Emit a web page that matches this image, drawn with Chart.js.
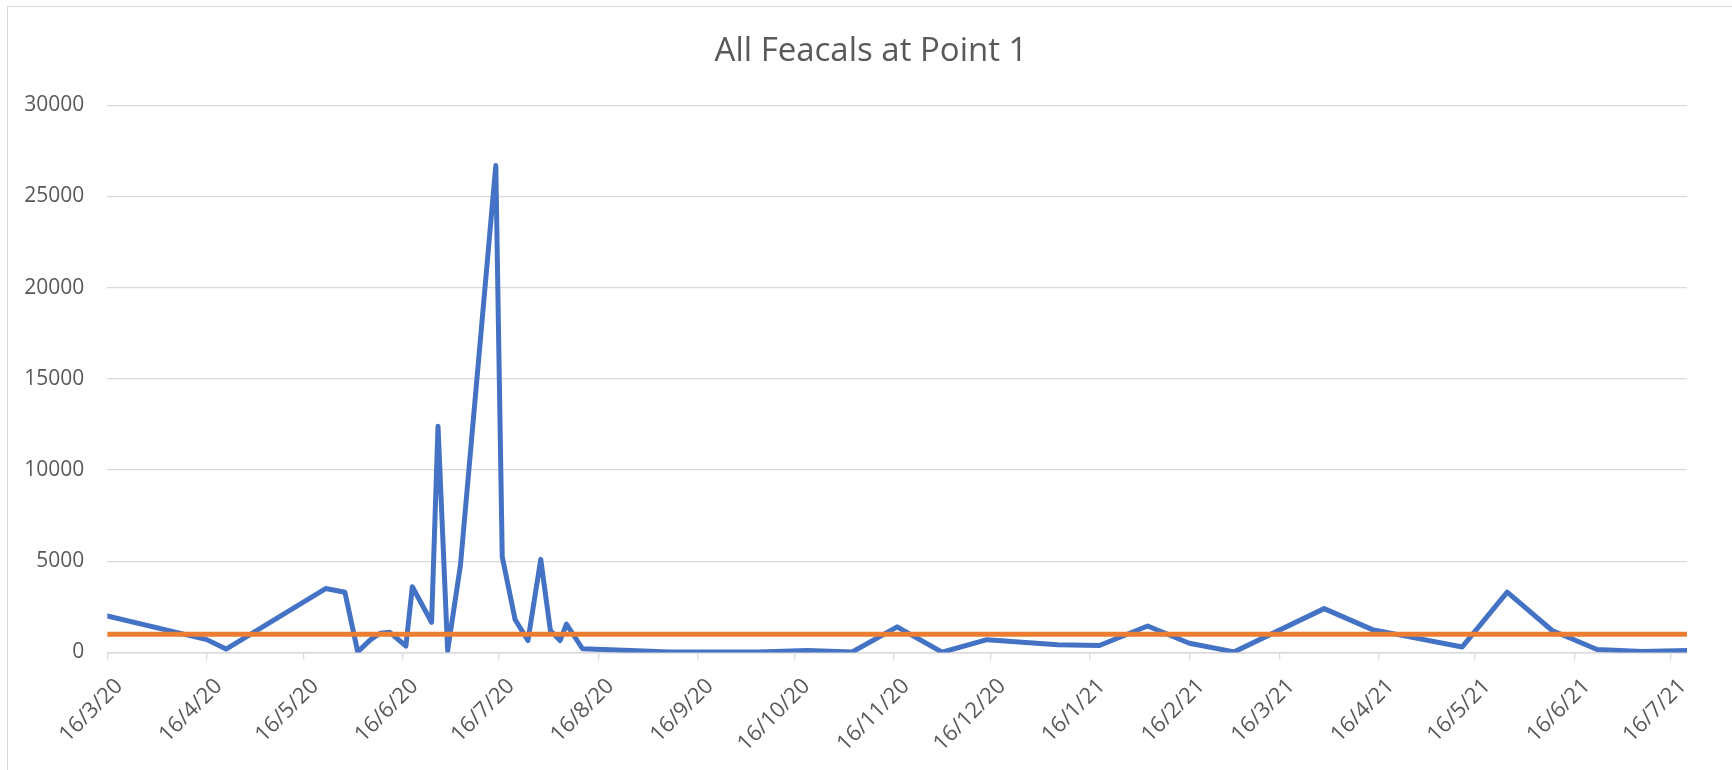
<!DOCTYPE html>
<html>
<head>
<meta charset="utf-8">
<script src="https://cdn.jsdelivr.net/npm/chart.js@4.4.1/dist/chart.umd.min.js"></script>
<style>
  html, body { margin: 0; padding: 0; background: #fff; overflow: hidden; }
  #wrap { position: relative; width: 1732px; height: 770px; }
  #frame { position: absolute; left: 7px; top: 6px; width: 1800px; height: 800px;
           border-left: 1px solid #d9d9d9; border-top: 1px solid #d9d9d9; }
  canvas { position: absolute; left: 0; top: 0; }
</style>
</head>
<body>
<div id="wrap">
  <div id="frame"></div>
  <canvas id="c" width="1732" height="770"></canvas>
</div>
<script>
// ---- data ----
const chartTitle = 'All Feacals at Point 1';
const sampleDates = ['16/3/20','16/4/20','22/4/20','23/5/20','29/5/20','2/6/20','6/6/20','9/6/20','12/6/20','17/6/20',
  '19/6/20','25/6/20','27/6/20','30/6/20','4/7/20','15/7/20','17/7/20','21/7/20','25/7/20','29/7/20',
  '1/8/20','4/8/20','6/8/20','11/8/20','26/8/20','7/9/20','5/10/20','20/10/20','3/11/20','17/11/20',
  '1/12/20','15/12/20','6/1/21','19/1/21','3/2/21','16/2/21','2/3/21','30/3/21','14/4/21','12/5/21',
  '26/5/21','9/6/21','23/6/21','7/7/21','21/7/21'];
const faecalValues = [2000, 700, 180, 3500, 3300, 30, 700, 1050, 1100, 350,
  3600, 1650, 12400, 100, 4800, 26700, 5250, 1800, 650, 5100,
  1200, 650, 1550, 200, 100, 20, 20, 100, 20, 1400,
  10, 700, 420, 380, 1450, 500, 30, 2400, 1250, 300,
  3300, 1200, 160, 50, 100];
const limitDates = ['16/3/20', '21/7/21'];
const limitValues = [1000, 1000];
const xTickLabels = ['16/3/20','16/4/20','16/5/20','16/6/20','16/7/20','16/8/20','16/9/20','16/10/20','16/11/20',
  '16/12/20','16/1/21','16/2/21','16/3/21','16/4/21','16/5/21','16/6/21','16/7/21'];
const yTickValues = [0, 5000, 10000, 15000, 20000, 25000, 30000];

// ---- helpers ----
function dayOffset(s) {
  const [d, m, y] = s.split('/').map(Number);
  return (Date.UTC(2000 + y, m - 1, d) - Date.UTC(2020, 2, 16)) / 86400000;
}
const toPoints = (dates, vals) => dates.map((d, i) => ({ x: dayOffset(d), y: vals[i] }));

Chart.defaults.font.family = "'Open Sans', sans-serif";
Chart.defaults.color = '#595959';

new Chart(document.getElementById('c'), {
  type: 'line',
  data: {
    datasets: [
      {
        label: 'Limit',
        data: toPoints(limitDates, limitValues),
        borderColor: '#ED7D31',
        borderWidth: 5,
        pointRadius: 0,
        borderCapStyle: 'round',
        borderJoinStyle: 'round',
        order: 0
      },
      {
        label: 'All Feacals',
        data: toPoints(sampleDates, faecalValues),
        borderColor: '#4472C4',
        borderWidth: 5,
        pointRadius: 0,
        tension: 0,
        borderCapStyle: 'round',
        borderJoinStyle: 'round',
        order: 1
      }
    ]
  },
  options: {
    responsive: false,
    animation: false,
    devicePixelRatio: 1,
    layout: { padding: { left: 10, right: 0, top: 0, bottom: 0 } },
    plugins: {
      legend: { display: false },
      tooltip: { enabled: false },
      title: {
        display: true,
        text: chartTitle,
        color: '#595959',
        font: { size: 33, weight: 'normal', lineHeight: 1.2 },
        padding: { top: 32, bottom: 33.6 }
      }
    },
    scales: {
      x: {
        type: 'linear',
        min: 0,
        max: dayOffset('21/7/21'),
        afterBuildTicks: (scale) => { scale.ticks = xTickLabels.map(s => ({ value: dayOffset(s) })); },
        afterFit: (scale) => { scale.height = 117.6; scale.paddingLeft = 0; scale.paddingRight = 45; },
        grid: { display: true, drawOnChartArea: false, drawTicks: true, tickLength: 7, color: '#d9d9d9', lineWidth: 1.3 },
        border: { display: true, color: '#d9d9d9', width: 1.5 },
        ticks: {
          autoSkip: false,
          minRotation: 45,
          maxRotation: 45,
          padding: 14,
          labelOffset: 12,
          color: '#595959',
          font: { size: 22 },
          callback: (v, i) => xTickLabels[i]
        }
      },
      y: {
        min: 0,
        max: 30000,
        afterBuildTicks: (scale) => { scale.ticks = yTickValues.map(v => ({ value: v })); },
        afterFit: (scale) => { scale.width = 97.3; scale.paddingTop = 0; scale.paddingBottom = 0; },
        grid: { color: '#d9d9d9', lineWidth: 1.3, drawTicks: false },
        border: { display: false },
        ticks: {
          padding: 23,
          color: '#595959',
          font: { size: 21 },
          callback: (v) => String(v)
        }
      }
    }
  }
});
</script>
</body>
</html>
